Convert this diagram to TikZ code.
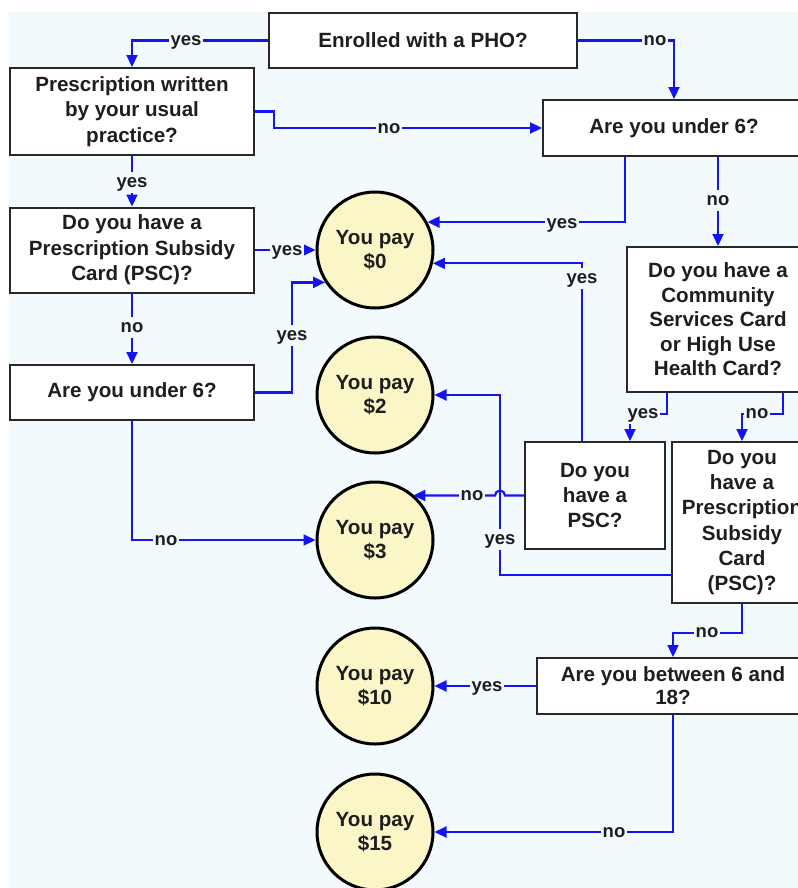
\documentclass[tikz,border=0pt]{standalone}
\usepackage{fontspec}
\setmainfont{Liberation Sans}
\usetikzlibrary{arrows.meta}
\definecolor{bgc}{RGB}{242,250,254}
\definecolor{circfill}{RGB}{250,246,200}
\definecolor{lineblue}{RGB}{20,20,240}
\definecolor{txt}{RGB}{30,30,30}
\definecolor{boxline}{RGB}{40,40,40}
\begin{document}
\begin{tikzpicture}[x=1bp, y=1bp,
  qbox/.style={draw=boxline, line width=2bp, fill=white, align=center, inner sep=0pt,
    text=txt, font=\fontsize{20.6bp}{25.4bp}\selectfont\bfseries},
  pay/.style={circle, draw=black, line width=3bp, fill=circfill, minimum size=116bp,
    inner sep=0pt, align=center, text=txt, font=\fontsize{20.6bp}{24bp}\selectfont\bfseries},
  conn/.style={draw=lineblue, line width=2.2bp, -{Triangle[length=12bp,width=11bp]}},
  lbl/.style={fill=bgc, inner sep=2bp, text=txt, font=\fontsize{18.5bp}{20bp}\selectfont\bfseries,
    text height=13.5bp, text depth=3.5bp}]
\useasboundingbox (0,0) rectangle (798,-888);
\clip (0,0) rectangle (798,-888);
\fill[white] (0,0) rectangle (798,-888);
\fill[bgc] (9,-12) rectangle (798,-888);

% question boxes
\node[qbox, minimum width=308bp, minimum height=55bp] (enr) at (423,-40.5) {Enrolled with a PHO?};
\node[qbox, minimum width=244bp, minimum height=87bp] (pw) at (132,-111.5) {Prescription written\\by your usual\\practice?};
\node[qbox, minimum width=262bp, minimum height=56bp] (u6r) at (674,-128) {Are you under 6?};
\node[qbox, minimum width=244bp, minimum height=85bp] (psc) at (132,-250) {Do you have a\\Prescription Subsidy\\Card (PSC)?};
\node[qbox, minimum width=244bp, minimum height=55bp] (u6l) at (132,-392.5) {Are you under 6?};
\node[qbox, minimum width=182bp, minimum height=145bp, font=\fontsize{20.6bp}{24.5bp}\selectfont\bfseries] (csc) at (718,-319.5) {Do you have a\\Community\\Services Card\\or High Use\\Health Card?};
\node[qbox, minimum width=140bp, minimum height=107bp] (dpsc) at (595,-495.5) {Do you\\have a\\PSC?};
\node[qbox, minimum width=140bp, minimum height=161bp, font=\fontsize{20.6bp}{25.3bp}\selectfont\bfseries] (psc2) at (742,-522.5) {Do you\\have a\\Prescription\\Subsidy\\Card\\(PSC)?};
\node[qbox, minimum width=272bp, minimum height=56bp, font=\fontsize{20.6bp}{23bp}\selectfont\bfseries] (btw) at (673,-686) {Are you between 6 and\\18?};

% result circles
\node[pay] (c0) at (375,-250) {You pay\\\$0};
\node[pay] (c2) at (375,-395) {You pay\\\$2};
\node[pay] (c3) at (375,-540) {You pay\\\$3};
\node[pay] (c10) at (375,-686) {You pay\\\$10};
\node[pay] (c15) at (375,-832) {You pay\\\$15};

% connectors
\draw[conn] (enr.west) -| (pw.north) node[lbl] at (186,-40.5) {yes};
\draw[conn] (enr.east) -| (u6r.north) node[lbl] at (655,-40.5) {no};
\draw[conn] (pw.east) -- ++(19,0) |- (u6r.west) node[lbl] at (389,-128) {no};
\draw[conn] (pw.south) -- (psc.north) node[lbl] at (132,-182) {yes};
\draw[conn] (psc.east) -- (c0.west) node[lbl] at (287,-250) {yes};
\draw[conn] (625,0 |- u6r.south) |- (c0.28) node[lbl] at (562,-223) {yes};
\draw[conn] (csc.north |- u6r.south) -- (csc.north) node[lbl] at (718,-200) {no};
\draw[conn] (psc.south) -- (u6l.north) node[lbl] at (132,-327) {no};
\draw[conn] (u6l.east) -- ++(37,0) |- (c0.213) node[lbl] at (292,-335) {yes};
\draw[conn] (u6l.south) |- (c3.west) node[lbl] at (166,-540) {no};
\draw[conn] (667,0 |- csc.south) -- ++(0,-21) -| (630,0 |- dpsc.north) node[lbl] at (643,-413) {yes};
\draw[conn] (783,0 |- csc.south) -- ++(0,-21) -| (psc2.north) node[lbl] at (757,-413) {no};
\draw[conn] (582,0 |- dpsc.north) |- (c0.347) node[lbl] at (582,-278) {yes};
\draw[conn] (psc2.west |- 0,-575) -| (500,0 |- c2.east) -- (c2.east) node[lbl] at (500,-539) {yes};
\draw[conn] (dpsc.west) -- (505,0 |- dpsc.west) arc[start angle=0, end angle=180, radius=5] -- (c3.50 |- dpsc.west) node[lbl] at (472,-495.5) {no};
\draw[conn] (psc2.south) -- ++(0,-29) -| (btw.north) node[lbl] at (707,-632) {no};
\draw[conn] (btw.west) -- (c10.east) node[lbl] at (487,-686) {yes};
\draw[conn] (btw.south) |- (c15.east) node[lbl] at (614,-832) {no};
\end{tikzpicture}
\end{document}
